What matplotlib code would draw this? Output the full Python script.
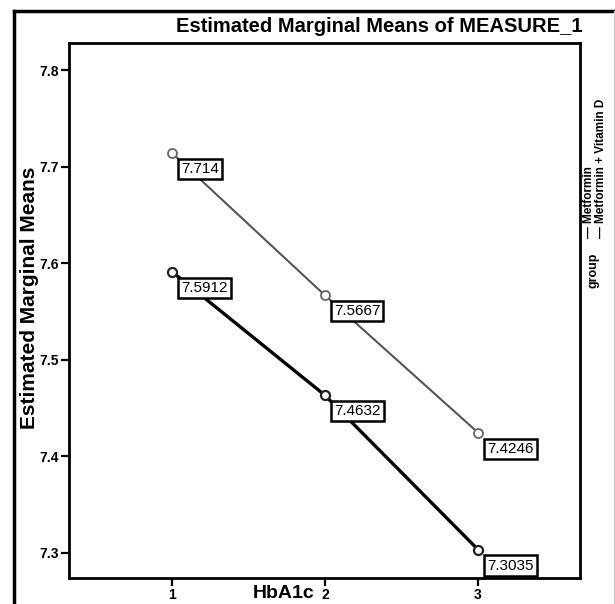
import matplotlib
matplotlib.use("Agg")
import matplotlib.pyplot as plt
from matplotlib.lines import Line2D

plt.rcParams['font.family'] = ['Liberation Sans Narrow', 'Liberation Sans', 'DejaVu Sans']

hba1c = [1, 2, 3]
xtick_labels = ['1', '2', '3']
metformin = [7.5912, 7.4632, 7.3035]
metformin_vitd = [7.714, 7.5667, 7.4246]
yticks = [7.3, 7.4, 7.5, 7.6, 7.7, 7.8]
ytick_labels = ['7.3', '7.4', '7.5', '7.6', '7.7', '7.8']
series_names = ['Metformin', 'Metformin + Vitamin D']
label_texts_met = ['7.5912', '7.4632', '7.3035']
label_texts_vitd = ['7.714', '7.5667', '7.4246']

W, H = 615, 604
fig = plt.figure(figsize=(W / 100, H / 100), dpi=100)
fig.patch.set_facecolor('white')

ax = fig.add_axes([69 / W, (H - 578) / H, (580 - 69) / W, (578 - 43) / H])
ax.set_xlim(0.327, 3.667)
ax.set_ylim(7.274, 7.828)

ax.plot(hba1c, metformin_vitd, color='#555555', lw=1.5, marker='o', ms=6.5,
        mfc='white', mec='#666666', mew=1.3, zorder=3)
ax.plot(hba1c, metformin, color='black', lw=2.4, marker='o', ms=6.5,
        mfc='white', mec='#222222', mew=1.6, zorder=3)

for xs, ys, labs in [(hba1c, metformin_vitd, label_texts_vitd), (hba1c, metformin, label_texts_met)]:
    for x, y, t in zip(xs, ys, labs):
        ax.annotate(t, (x, y), xytext=(9, -9), textcoords='offset pixels',
                    ha='left', va='top', fontsize=11, family=['Liberation Sans', 'DejaVu Sans'],
                    bbox=dict(boxstyle='square,pad=0.2', fc='white', ec='black', lw=1.8),
                    zorder=5)

ax.set_xticks(hba1c)
ax.set_xticklabels(xtick_labels, fontsize=10, fontweight='bold')
ax.set_yticks(yticks)
ax.set_yticklabels(ytick_labels, fontsize=10, fontweight='bold')
ax.tick_params(axis='both', direction='out', length=6, width=1.6, pad=1)
for s in ax.spines.values():
    s.set_linewidth(2.0)
    s.set_color('black')

fig.text(30 / W, 1 - 298 / H, 'Estimated Marginal Means', rotation=90, ha='center',
         va='center', fontsize=15, fontweight='bold', family=['Liberation Sans', 'DejaVu Sans'])

fig.text(284 / W, 1 - 593 / H, 'HbA1c', ha='center', va='center', fontsize=14,
         fontweight='bold', family=['Liberation Sans', 'DejaVu Sans'])

fig.text(583 / W, 1 - 27 / H, 'Estimated Marginal Means of MEASURE_1', ha='right',
         va='center', fontsize=14.5, fontweight='bold', family=['Liberation Sans', 'DejaVu Sans'])

# outer frame
fig.add_artist(Line2D([14 / W, 1.0], [1 - 11 / H, 1 - 11 / H], transform=fig.transFigure,
                      color='black', lw=2.5))
fig.add_artist(Line2D([14 / W, 14 / W], [1 - 11 / H, 0.0], transform=fig.transFigure,
                      color='black', lw=2.5))
fig.add_artist(Line2D([614 / W, 614 / W], [1 - 11 / H, 0.0], transform=fig.transFigure,
                      color='#cccccc', lw=1))

# rotated legend
fig.text(593 / W, 1 - 270 / H, 'group', rotation=90, ha='center', va='center', fontsize=9,
         fontweight='bold')
fig.text(589 / W, 1 - 238 / H, '\u2014 ' + series_names[0], rotation=90, ha='center',
         va='bottom', fontsize=8.5, fontweight='bold')
fig.text(601 / W, 1 - 238 / H, '\u2014 ' + series_names[1], rotation=90, ha='center',
         va='bottom', fontsize=8.5, fontweight='bold')

fig.savefig('out.png', dpi=100)
